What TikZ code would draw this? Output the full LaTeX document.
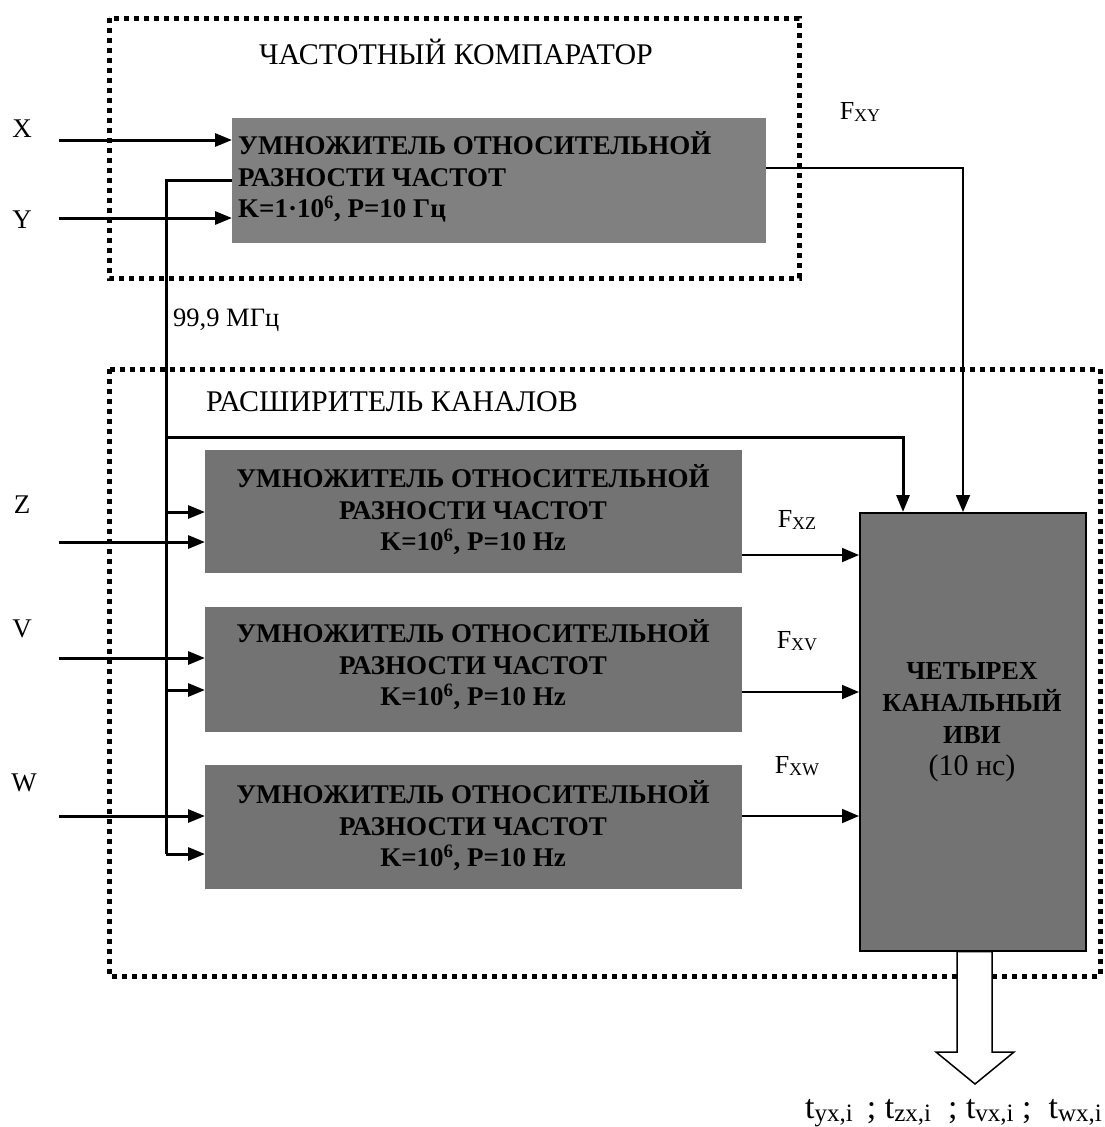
\documentclass[tikz,border=0pt]{standalone}
\usepackage{fontspec}
\setmainfont{Liberation Serif}
\usetikzlibrary{arrows.meta}
\newcommand\Fsub[1]{F\raisebox{-2pt}{\fontsize{18}{18}\selectfont #1}}
\newcommand\tsub[1]{t\raisebox{-3pt}{\fontsize{25}{25}\selectfont #1}}
\begin{document}
\begin{tikzpicture}[x=1pt,y=-1pt,
  gbox/.style={fill=black!55, inner sep=0pt, anchor=north west},
  btext/.style={font=\fontsize{27}{31.5}\selectfont\bfseries, align=center, inner sep=0pt},
  lbl/.style={font=\fontsize{27}{30}\selectfont, inner sep=0pt},
  flbl/.style={font=\fontsize{26}{30}\selectfont, inner sep=0pt},
  ttl/.style={font=\fontsize{30}{34}\selectfont, inner sep=0pt},
  dotbox/.style={line width=5pt, dash pattern=on 5pt off 5pt},
  inarr/.style={line width=3pt, -{Triangle[length=17pt,width=13pt]}},
  outarr/.style={line width=1.8pt, -{Triangle[length=17pt,width=14pt]}},
  wire/.style={line width=3pt}]
\useasboundingbox (0,0) rectangle (1104,1127);

% dotted frames
\draw[dotbox] (109,18) rectangle (799,278);
\draw[dotbox] (109,369) rectangle (1100,976);

% titles
\node[ttl, anchor=west] (t1) at (259,52) {ЧАСТОТНЫЙ КОМПАРАТОР};
\node[ttl, anchor=west] (t2) at (206,402) {РАСШИРИТЕЛЬ КАНАЛОВ};
\node[font=\fontsize{26.5}{30}\selectfont, inner sep=0pt, anchor=west] (f99) at (173,320) {99,9 МГц};

% blocks
\node[gbox, fill=black!50, minimum width=534pt, minimum height=125pt] (m0) at (232,118) {};
\node[btext, align=left, anchor=west] (m0t) at (238,177) {УМНОЖИТЕЛЬ ОТНОСИТЕЛЬНОЙ\\РАЗНОСТИ ЧАСТОТ\\K=1·10\textsuperscript{6}, P=10 Гц};

\node[gbox, minimum width=537pt, minimum height=123pt] (mz) at (205,450) {};
\node[btext] (mzt) at (473,510) {УМНОЖИТЕЛЬ ОТНОСИТЕЛЬНОЙ\\РАЗНОСТИ ЧАСТОТ\\K=10\textsuperscript{6}, P=10 Hz};

\node[gbox, minimum width=537pt, minimum height=125pt] (mv) at (205,607) {};
\node[btext] (mvt) at (473,665) {УМНОЖИТЕЛЬ ОТНОСИТЕЛЬНОЙ\\РАЗНОСТИ ЧАСТОТ\\K=10\textsuperscript{6}, P=10 Hz};

\node[gbox, minimum width=537pt, minimum height=124pt] (mw) at (205,765) {};
\node[btext] (mwt) at (473,826) {УМНОЖИТЕЛЬ ОТНОСИТЕЛЬНОЙ\\РАЗНОСТИ ЧАСТОТ\\K=10\textsuperscript{6}, P=10 Hz};

\node[gbox, draw=black, line width=1.5pt, minimum width=226pt, minimum height=438pt] (ivi) at (859,512) {};
\node[btext, font=\fontsize{26}{32}\selectfont] (ivit) at (972,722) {\textbf{ЧЕТЫРЕХ}\\\textbf{КАНАЛЬНЫЙ}\\\textbf{ИВИ}\\{\fontsize{30}{32}\selectfont(10 нс)}};

% input labels
\node[lbl] (lx) at (22,129) {X};
\node[lbl] (ly) at (22,220) {Y};
\node[lbl] (lz) at (22,505) {Z};
\node[lbl] (lv) at (22,629) {V};
\node[lbl] (lw) at (24,783) {W};

% input start points
\coordinate (xin) at (59,140);
\coordinate (yin) at (59,218);
\coordinate (zin) at (59,542);
\coordinate (vin) at (59,658);
\coordinate (win) at (59,816);

\draw[inarr] (xin) -- (xin -| m0.west);
\draw[inarr] (yin) -- (yin -| m0.west);
\draw[inarr] (zin) -- (zin -| mz.west);
\draw[inarr] (vin) -- (vin -| mv.west);
\draw[inarr] (win) -- (win -| mw.west);

% reference bus 99.9 MHz
\coordinate (bt) at (166,180);
\coordinate (bi) at (166,437);
\coordinate (bz) at (166,512);
\coordinate (bv) at (166,690);
\coordinate (bb) at (166,854);
\coordinate (a1) at (903,512);
\coordinate (a2) at (963,512);

\draw[wire] (bt -| m0.west) -- (bt) -- (bb);
\draw[inarr] (bz) -- (bz -| mz.west);
\draw[inarr] (bv) -- (bv -| mv.west);
\draw[inarr] (bb) -- (bb -| mw.west);
\draw[inarr] (bi) -| (a1);

% outputs of multipliers
\coordinate (pxy) at (766,168);
\coordinate (pz) at (742,555);
\coordinate (pv) at (742,692);
\coordinate (pw) at (742,816);
\draw[outarr] (pxy) -| (a2);
\draw[outarr] (pz) -- (pz -| ivi.west);
\draw[outarr] (pv) -- (pv -| ivi.west);
\draw[outarr] (pw) -- (pw -| ivi.west);

\node[flbl] (lfxy) at (860,112) {\Fsub{XY}};
\node[flbl] (lfxz) at (797,520) {\Fsub{XZ}};
\node[flbl] (lfxv) at (797,641) {\Fsub{XV}};
\node[flbl] (lfxw) at (797,766) {\Fsub{XW}};

% hollow output arrow
\draw[line width=1.5pt, fill=white]
  (ivi.south -| 957,0) -- (957,1052) -- (936,1052) -- (975,1084) -- (1014,1052) -- (992,1052) -- (ivi.south -| 992,0) -- cycle;

\node[font=\fontsize{34}{38}\selectfont, inner sep=0pt, anchor=base east] (outl) at (1102,1118)
  {\tsub{yx,i}\ \,; \tsub{zx,i}\ \ ; \tsub{vx,i}\ ; \ \tsub{wx,i}};
\end{tikzpicture}
\end{document}
